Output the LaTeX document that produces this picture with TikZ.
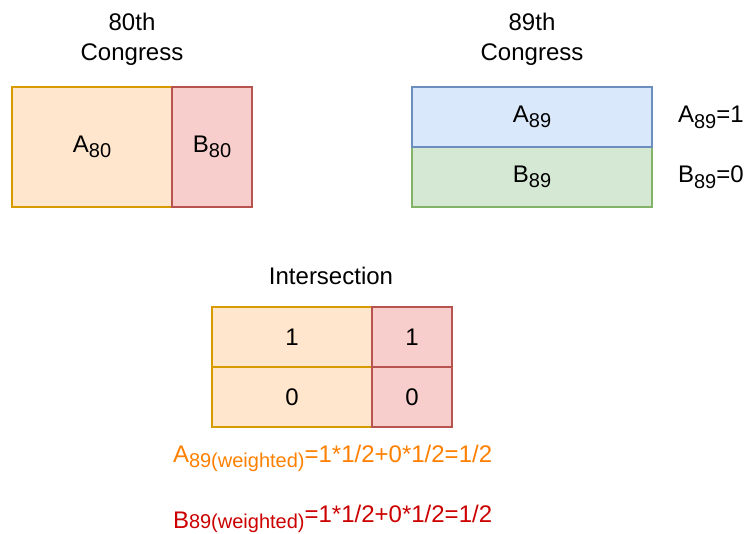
\documentclass[tikz,border=0pt]{standalone}
\usepackage{fontspec}
\setmainfont{Liberation Sans}
\definecolor{orfill}{HTML}{FFE6CC}
\definecolor{ordraw}{HTML}{D79B00}
\definecolor{rdfill}{HTML}{F8CECC}
\definecolor{rddraw}{HTML}{B85450}
\definecolor{blfill}{HTML}{DAE8FC}
\definecolor{bldraw}{HTML}{6C8EBF}
\definecolor{grfill}{HTML}{D5E8D4}
\definecolor{grdraw}{HTML}{82B366}
\definecolor{ortext}{HTML}{FF8000}
\definecolor{rdtext}{HTML}{CC0000}
\newcommand{\mysub}[1]{{\fontsize{20}{24}\selectfont\raisebox{-5.5pt}{#1}}}
\newcommand{\mysmall}[1]{{\fontsize{20}{24}\selectfont #1}}
\tikzset{
  cell/.style={draw, line width=2pt, inner sep=0pt, outer sep=0pt, rectangle,
    font=\fontsize{24}{28.8}\selectfont},
  orcell/.style={cell, fill=orfill, draw=ordraw},
  rdcell/.style={cell, fill=rdfill, draw=rddraw},
  blcell/.style={cell, fill=blfill, draw=bldraw},
  grcell/.style={cell, fill=grfill, draw=grdraw},
  lbl/.style={inner sep=0pt, outer sep=0pt, font=\fontsize{24}{28.8}\selectfont}
}
\begin{document}
\begin{tikzpicture}[x=1pt,y=-1pt]
\useasboundingbox (0,0) rectangle (747,534);
% titles
\node[lbl, anchor=base] (t80a) at (132,30.5) {80th};
\node[lbl, anchor=base] (t80b) at (132,60.5) {Congress};
\node[lbl, anchor=base] (t89a) at (532,30.5) {89th};
\node[lbl, anchor=base] (t89b) at (532,60.5) {Congress};
% 80th congress
\node[orcell, minimum width=160pt, minimum height=120pt] (a80) at (92,147) {A\mysub{80}};
\node[rdcell, minimum width=80pt, minimum height=120pt] (b80) at (212,147) {B\mysub{80}};
% 89th congress
\node[grcell, minimum width=240pt, minimum height=60pt] (b89) at (532,177) {B\mysub{89}};
\node[blcell, minimum width=240pt, minimum height=60pt] (a89) at (532,117) {A\mysub{89}};
\node[lbl, anchor=base west] (a89v) at (678,123) {A\mysub{89}=1};
\node[lbl, anchor=base west] (b89v) at (678,183) {B\mysub{89}=0};
% intersection
\node[lbl, anchor=base] (tint) at (331,285) {Intersection};
\node[orcell, minimum width=160pt, minimum height=60pt] (i11) at (292,337) {1};
\node[orcell, minimum width=160pt, minimum height=60pt] (i21) at (292,397) {0};
\node[rdcell, minimum width=80pt, minimum height=60pt] (i12) at (412,337) {1};
\node[rdcell, minimum width=80pt, minimum height=60pt] (i22) at (412,397) {0};
% formulas
\node[lbl, anchor=base west, text=ortext] (fa) at (173,462) {A\mysub{89(weighted)}=1*1/2+0*1/2=1/2};
\node[lbl, anchor=base west, text=rdtext] (fb) at (173,522) {\raisebox{-6pt}{B\mysmall{89(weighted)}}=1*1/2+0*1/2=1/2};
\end{tikzpicture}
\end{document}
